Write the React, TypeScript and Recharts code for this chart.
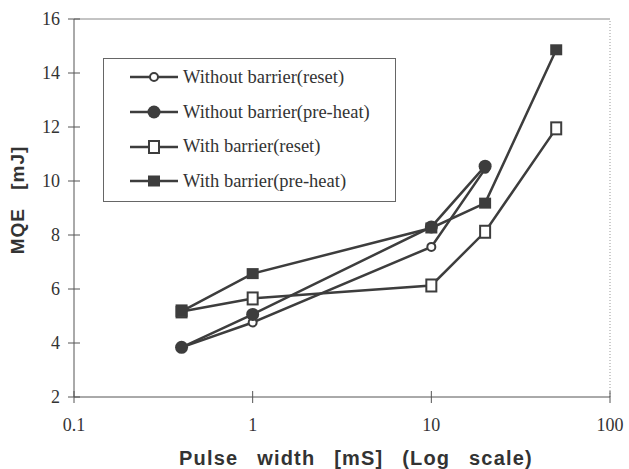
import { Label, Legend, Line, LineChart, ReferenceLine, XAxis, YAxis } from "recharts";

// pulse widths (mS)
const pulseShort = [0.4, 1, 10, 20];
const pulseLong = [0.4, 1, 10, 20, 50];

// MQE (mJ)
const withoutReset = [3.84, 4.76, 7.56, 10.45];
const withoutPreheat = [3.84, 5.06, 8.3, 10.55];
const withReset = [5.17, 5.65, 6.13, 8.12, 11.95];
const withPreheat = [5.17, 6.57, 8.26, 9.18, 14.86];

const xTicks = [0.1, 1, 10, 100];
const yTicks = [2, 4, 6, 8, 10, 12, 14, 16];

const seriesNames = [
  "Without barrier(reset)",
  "Without barrier(pre-heat)",
  "With barrier(reset)",
  "With barrier(pre-heat)",
];

const INK = "#3d3d3d";
const SERIF = '"Liberation Serif", Tinos, "Times New Roman", Times, "DejaVu Serif", "Noto Serif", serif';
const SANS = '"Liberation Sans", Arimo, Arial, sans-serif';

type MarkerKind = "openCircle" | "filledCircle" | "openSquare" | "filledSquare";
const markerKinds: MarkerKind[] = ["openCircle", "filledCircle", "openSquare", "filledSquare"];

const toPoints = (xs: number[], ys: number[]) => xs.map((x, i) => ({ x, y: ys[i] }));

function Marker({ kind, cx, cy }: { kind: MarkerKind; cx: number; cy: number }) {
  switch (kind) {
    case "openCircle":
      return <circle cx={cx} cy={cy} r={4} fill="#fff" stroke={INK} strokeWidth={2} />;
    case "filledCircle":
      return <circle cx={cx} cy={cy} r={6.5} fill={INK} />;
    case "openSquare":
      return <rect x={cx - 5} y={cy - 6} width={10} height={12} fill="#fff" stroke={INK} strokeWidth={2} />;
    default:
      return <rect x={cx - 6} y={cy - 5.5} width={12} height={11} fill={INK} />;
  }
}

const makeDot = (kind: MarkerKind) => (p: any) =>
  <Marker key={`${kind}-${p.index}`} kind={kind} cx={p.cx} cy={p.cy} />;

function XTick({ x, y, payload }: any) {
  return (
    <g>
      <line x1={x} x2={x} y1={y - 6} y2={y + 6} stroke="#555" />
      <text x={x} y={y + 28} textAnchor="middle" dominantBaseline="central" fontFamily={SERIF} fontSize={18} fill="#333">
        {payload.value}
      </text>
    </g>
  );
}

function YTick({ x, y, payload }: any) {
  return (
    <g>
      <line x1={x - 6} x2={x + 6} y1={y} y2={y} stroke="#555" />
      <text x={x - 14} y={y} textAnchor="end" dominantBaseline="central" fontFamily={SERIF} fontSize={18} fill="#333">
        {payload.value}
      </text>
    </g>
  );
}

function LegendBox({ payload }: any) {
  const rows = [...(payload ?? [])].sort(
    (a: any, b: any) => seriesNames.indexOf(a.value) - seriesNames.indexOf(b.value)
  );
  return (
    <div
      style={{
        width: 293,
        height: 144,
        boxSizing: "border-box",
        border: "1px solid #666",
        background: "#fff",
        paddingTop: 1,
      }}
    >
      {rows.map((entry: any) => (
        <div key={entry.value} style={{ height: 34.7, display: "flex", alignItems: "center" }}>
          <svg width={52} height={20} style={{ marginLeft: 24, flexShrink: 0 }}>
            <line x1={2} x2={50} y1={10} y2={10} stroke={INK} strokeWidth={2.5} />
            <Marker kind={markerKinds[seriesNames.indexOf(entry.value)]} cx={26} cy={10} />
          </svg>
          <span style={{ marginLeft: 3, fontFamily: SERIF, fontSize: 18.5, color: "#333", whiteSpace: "nowrap" }}>
            {entry.value}
          </span>
        </div>
      ))}
    </div>
  );
}

const series = [
  { data: toPoints(pulseShort, withoutReset), name: seriesNames[0] },
  { data: toPoints(pulseShort, withoutPreheat), name: seriesNames[1] },
  { data: toPoints(pulseLong, withReset), name: seriesNames[2] },
  { data: toPoints(pulseLong, withPreheat), name: seriesNames[3] },
];

export default function App() {
  return (
    <div style={{ position: "absolute", left: 0, top: 0, width: 629, height: 469, background: "#fff" }}>
      <LineChart width={629} height={469} margin={{ top: 19, right: 19, left: 0, bottom: 0 }}>
        <XAxis
          dataKey="x"
          type="number"
          scale="log"
          domain={[0.1, 100]}
          ticks={xTicks}
          allowDataOverflow
          height={72}
          tickSize={0}
          tickMargin={0}
          tick={<XTick />}
          axisLine={{ stroke: "#555" }}
          tickLine={false}
        >
          <Label
            content={({ viewBox }: any) => {
              const cx = viewBox.x + viewBox.width / 2 + 14;
              const cy = viewBox.y + 61;
              return (
                <text
                  x={cx}
                  y={cy}
                  textAnchor="middle"
                  dominantBaseline="central"
                  fontFamily={SANS}
                  fontWeight="bold"
                  fontSize={20}
                  letterSpacing={1.2}
                  wordSpacing={12}
                  fill="#333"
                >
                  Pulse width [mS] (Log scale)
                </text>
              );
            }}
          />
        </XAxis>
        <YAxis
          type="number"
          domain={[2, 16]}
          ticks={yTicks}
          width={74}
          tickSize={0}
          tickMargin={0}
          tick={<YTick />}
          axisLine={{ stroke: "#555" }}
          tickLine={false}
        >
          <Label
            content={({ viewBox }: any) => {
              const cx = viewBox.x + 17;
              const cy = viewBox.y + viewBox.height / 2 - 8;
              return (
                <text
                  x={cx}
                  y={cy}
                  transform={`rotate(-90 ${cx} ${cy})`}
                  textAnchor="middle"
                  dominantBaseline="central"
                  fontFamily={SANS}
                  fontWeight="bold"
                  fontSize={19}
                  letterSpacing={1}
                  wordSpacing={12}
                  fill="#333"
                >
                  MQE [mJ]
                </text>
              );
            }}
          />
        </YAxis>
        <ReferenceLine y={16} stroke="#888" />
        <ReferenceLine x={100} stroke="#999" strokeDasharray="1 2" />
        <Legend
          layout="vertical"
          align="center"
          verticalAlign="middle"
          wrapperStyle={{ left: 103, top: 58, width: 293, height: 144 }}
          content={<LegendBox />}
        />
        {series.map((s, i) => (
          <Line
            key={s.name}
            data={s.data}
            dataKey="y"
            name={s.name}
            stroke={INK}
            strokeWidth={2.5}
            dot={makeDot(markerKinds[i])}
            activeDot={false}
            legendType="line"
            isAnimationActive={false}
          />
        ))}
      </LineChart>
    </div>
  );
}
